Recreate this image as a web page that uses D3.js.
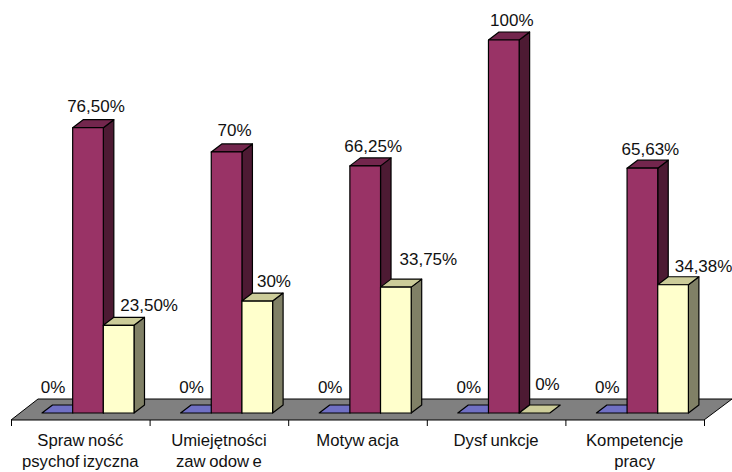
<!DOCTYPE html>
<html>
<head>
<meta charset="utf-8">
<script src="https://cdn.jsdelivr.net/npm/d3@7"></script>
<style>
  html, body { margin: 0; background: #fff; }
  text { font-family: "Liberation Sans", Arial, sans-serif; fill: #111; }
</style>
</head>
<body>
<svg id="chart" width="732" height="472"></svg>
<script>
var categories = [["Sprawność", "psychofizyczna"], ["Umiejętności", "zawodowe"], ["Motywacja"], ["Dysfunkcje"], ["Kompetencje", "pracy"]];
var seriesNames = ["a", "b", "c"];
var blueValues = [0, 0, 0, 0, 0];
var purpleValues = [76.5, 70, 66.25, 100, 65.63];
var creamValues = [23.5, 30, 33.75, 0, 34.38];
var valueLabels = [
  ["0%", "0%", "0%", "0%", "0%"],
  ["76,50%", "70%", "66,25%", "100%", "65,63%"],
  ["23,50%", "30%", "33,75%", "0%", "34,38%"]
];
var allValues = [blueValues, purpleValues, creamValues];

var svg = d3.select("#chart");

var floorY = 420, baseY = 413, depthX = 10.5, depthY = 8;
var x0 = d3.scaleBand().domain(d3.range(categories.length)).range([11, 704]);
var x1 = d3.scaleBand().domain(seriesNames).range([31, 123]);
var y = d3.scaleLinear().domain([0, 100]).range([baseY, 40]);

var faces = {
  a: { front: "#7070c4", top: "#7070c4", side: "#4a4a80" },
  b: { front: "#993366", top: "#73264d", side: "#4d1a33" },
  c: { front: "#ffffcc", top: "#cccc99", side: "#808066" }
};

// the original placed these by hand to keep them off the bars
var nudgeY = [[0, 0, 0, 0, 0], [0, 0, 2, 2, 3], [0, 0, -8, -9, 1]];
var nudgeX = [[0, 0, 0, 0, 0], [0, 0, 0, 0, 0], [0, -2, 2, -1, 0]];

// floor
svg.append("path")
  .attr("d", "M11," + floorY + "L38,399H732L704," + floorY + "Z")
  .attr("fill", "#808080")
  .attr("stroke", "#000")
  .attr("stroke-width", 1);

// category axis, ticks only
var axis = d3.axisBottom(d3.scaleLinear().domain([0, categories.length]).range([11, 704]))
  .ticks(categories.length)
  .tickSize(6)
  .tickFormat("");
svg.append("g").attr("transform", "translate(0," + floorY + ")").call(axis)
  .select(".domain").remove();

function box(g, x, w, top, f) {
  var r = x + w;
  if (top < baseY) {
    g.append("path").attr("fill", f.side)
      .attr("d", "M" + r + "," + top + "l" + depthX + "," + (-depthY) + "V" + (baseY - depthY) + "L" + r + "," + baseY + "Z");
  }
  g.append("path").attr("fill", f.top)
    .attr("d", "M" + x + "," + top + "l" + depthX + "," + (-depthY) + "h" + w + "L" + r + "," + top + "Z");
  if (top < baseY) {
    g.append("rect").attr("x", x).attr("y", top).attr("width", w).attr("height", baseY - top).attr("fill", f.front);
  }
  g.selectAll("path,rect").attr("stroke", "#000").attr("stroke-width", 1.2).attr("stroke-linejoin", "round");
}

categories.forEach(function (cat, i) {
  var g = svg.append("g").attr("transform", "translate(" + x0(i) + ",0)");
  seriesNames.forEach(function (s, j) {
    var b = g.append("g");
    box(b, x1(s), x1.bandwidth(), y(allValues[j][i]), faces[s]);
  });
});

// value labels sit in front of everything
categories.forEach(function (cat, i) {
  seriesNames.forEach(function (s, j) {
    var v = allValues[j][i], bx = x0(i) + x1(s), bw = x1.bandwidth();
    var t = svg.append("text").attr("font-size", 17).text(valueLabels[j][i]);
    var px, py = y(v) + nudgeY[j][i];
    if (j === 0) {
      px = bx + 11; py -= 20;
      t.attr("text-anchor", "middle");
    } else if (j === 1) {
      px = bx + bw / 2 + 8; py -= 16;
      t.attr("text-anchor", "middle");
    } else {
      px = bx + 17; py -= 14;
      t.attr("text-anchor", "start");
    }
    t.attr("x", px + nudgeX[j][i]).attr("y", py);
  });
});

// category labels, the renderer leaves a small gap after w and f
categories.forEach(function (lines, i) {
  var cx = x0(i) + x0.bandwidth() / 2;
  var t = svg.append("text").attr("text-anchor", "middle").attr("font-size", 16.7).attr("y", 446);
  lines.forEach(function (line, k) {
    line.split(/(?<=[wf])/).forEach(function (part, p) {
      var sp = t.append("tspan").text(part);
      if (p === 0) sp.attr("x", cx).attr("dy", k ? 21 : 0);
      else sp.attr("dx", 3.5);
    });
  });
});
</script>
</body>
</html>
